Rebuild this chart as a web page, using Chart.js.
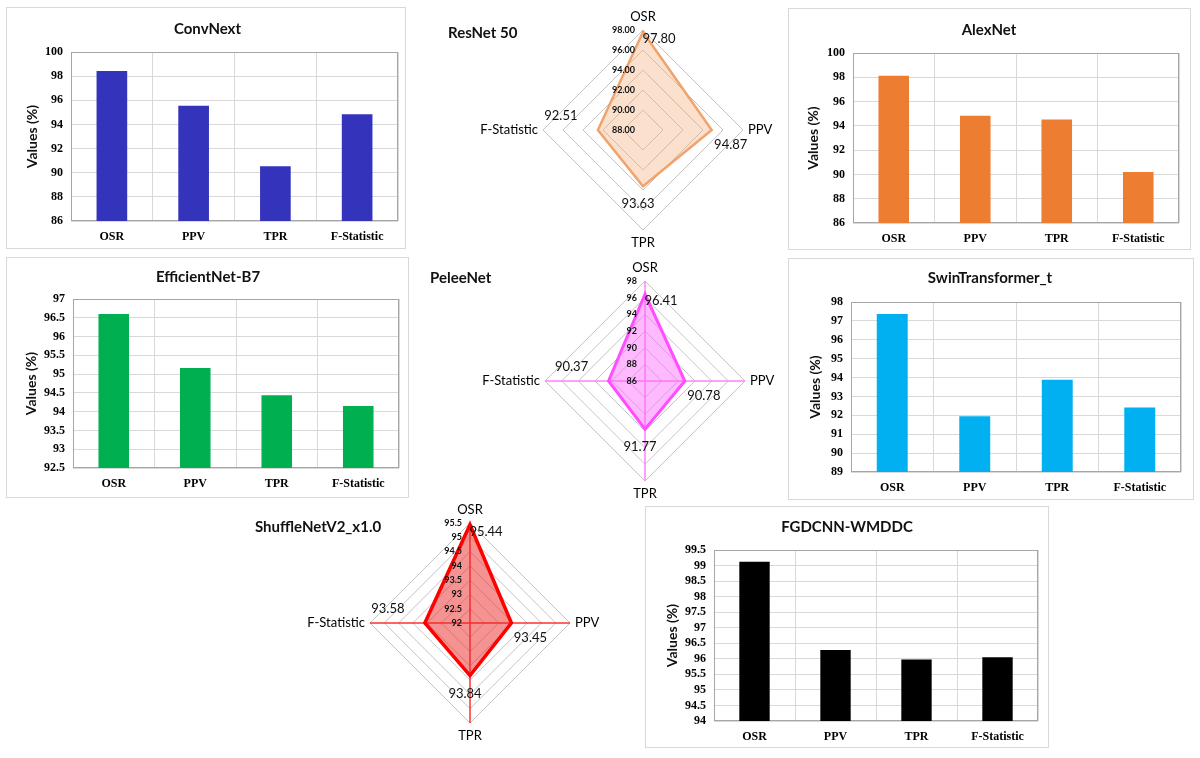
<!DOCTYPE html>
<html>
<head>
<meta charset="utf-8">
<script src="https://cdn.jsdelivr.net/npm/chart.js@4.4.1/dist/chart.umd.min.js"></script>
<style>
  body { margin: 0; background: #fff; }
  #page { position: relative; width: 1200px; height: 758px; overflow: hidden; }
  .panel { position: absolute; }
  .boxed { border: 1px solid #d9d9d9; box-sizing: border-box; }
  canvas { display: block; }
</style>
</head>
<body>
<div id="page"></div>
<script>
const metrics = ["OSR", "PPV", "TPR", "F-Statistic"];

const convNextValues = [98.43, 95.55, 90.53, 94.84];
const alexNetValues = [98.13, 94.84, 94.53, 90.19];
const efficientNetValues = [96.60, 95.16, 94.44, 94.15];
const swinValues = [97.37, 91.95, 93.88, 92.42];
const fgdcnnValues = [99.12, 96.28, 95.98, 96.05];
const resNetValues = [97.80, 94.87, 93.63, 92.51];
const peleeNetValues = [96.41, 90.78, 91.77, 90.37];
const shuffleNetValues = [95.44, 93.45, 93.84, 93.58];

// [min, max, step]
const convNextRange = [86, 100, 2];
const alexNetRange = [86, 100, 2];
const efficientNetRange = [92.5, 97, 0.5];
const swinRange = [89, 98, 1];
const fgdcnnRange = [94, 99.5, 0.5];
const resNetRange = [88, 98, 2];
const peleeNetRange = [86, 98, 2];
const shuffleNetRange = [92, 95.5, 0.5];

const sansFont = 'Lato, "Liberation Sans", sans-serif';
const serifFont = '"Liberation Serif", "Times New Roman", serif';

function addCanvas(x, y, w, h, boxed) {
  const div = document.createElement("div");
  div.className = "panel" + (boxed ? " boxed" : "");
  div.style.left = x + "px";
  div.style.top = y + "px";
  div.style.width = w + "px";
  div.style.height = h + "px";
  const canvas = document.createElement("canvas");
  canvas.width = boxed ? w - 2 : w;
  canvas.height = boxed ? h - 2 : h;
  div.appendChild(canvas);
  document.getElementById("page").appendChild(div);
  return canvas;
}

// gray frame round the plot area, under the bars
const plotFrame = {
  id: "plotFrame",
  beforeDatasetsDraw(chart) {
    const a = chart.chartArea, ctx = chart.ctx;
    ctx.save();
    ctx.strokeStyle = "#a6a6a6";
    ctx.lineWidth = 1;
    ctx.strokeRect(Math.round(a.left) + 0.5, Math.round(a.top) + 0.5,
      Math.round(a.right - a.left) - 1, Math.round(a.bottom - a.top) - 1);
    ctx.restore();
  }
};

function makeBar(box, plot, titleY, yTitleX, title, values, range, color) {
  const canvas = addCanvas(box[0], box[1], box[2], box[3], true);
  const ox = box[0] + 1, oy = box[1] + 1;
  const padLeft = 10;
  const plotLeft = plot[0] - ox;
  const plotTop = plot[1] - oy;
  const padRight = canvas.width - (plot[2] - ox);
  const xAxisHeight = canvas.height - (plot[3] - oy);
  const tTop = titleY - oy - 9;
  const tBottom = plotTop - 18 - tTop;
  const yTitlePad = (yTitleX - ox) - padLeft - 8.4;

  new Chart(canvas, {
    type: "bar",
    data: {
      labels: metrics,
      datasets: [{
        data: values,
        backgroundColor: color,
        barPercentage: 0.375,
        categoryPercentage: 1
      }]
    },
    options: {
      responsive: false,
      animation: false,
      layout: { padding: { left: padLeft, right: padRight, top: 0, bottom: 0 } },
      plugins: {
        legend: { display: false },
        tooltip: { enabled: false },
        title: {
          display: true,
          text: title,
          color: "#111",
          font: { family: sansFont, size: 15, weight: "bold" },
          padding: { top: tTop, bottom: tBottom }
        }
      },
      scales: {
        x: {
          grid: { color: "#d9d9d9", drawTicks: false, offset: true },
          border: { display: false },
          ticks: { color: "#000", font: { family: serifFont, size: 12, weight: "bold" }, padding: 9 },
          afterFit(s) { s.height = xAxisHeight; }
        },
        y: {
          min: range[0],
          max: range[1],
          ticks: {
            stepSize: range[2],
            autoSkip: false,
            maxTicksLimit: 30,
            color: "#000",
            font: { family: serifFont, size: 12, weight: "bold" },
            padding: 8,
            callback: v => String(Math.round(v * 10) / 10)
          },
          grid: { color: "#d9d9d9", drawTicks: false },
          border: { display: false },
          title: {
            display: true,
            text: "Values (%)",
            color: "#111",
            font: { family: sansFont, size: 14, weight: "bold" },
            padding: { top: yTitlePad, bottom: 0 }
          },
          afterFit(s) { s.width = plotLeft - padLeft; }
        }
      }
    },
    plugins: [plotFrame]
  });
}

// offsets of the value labels from each vertex (OSR, PPV, TPR, F-Statistic)
const valueLabelOffsets = [[16, 7], [19, 15], [-5, 18], [-37, -14]];

const radarText = {
  id: "radarText",
  afterDatasetsDraw(chart, args, opts) {
    const ctx = chart.ctx, r = chart.scales.r;
    ctx.save();
    ctx.fillStyle = "#111";
    ctx.textBaseline = "middle";

    ctx.font = "bold 15px " + sansFont;
    ctx.textAlign = "left";
    ctx.fillText(opts.title, opts.titleX, opts.titleY);

    ctx.font = "bold 9px " + sansFont;
    ctx.textAlign = "right";
    r.ticks.forEach(t => {
      const d = r.getDistanceFromCenterForValue(t.value);
      const txt = opts.decimals >= 0 ? t.value.toFixed(opts.decimals) : String(Math.round(t.value * 10) / 10);
      ctx.fillText(txt, r.xCenter - 8, r.yCenter - d);
    });

    ctx.font = "13px " + sansFont;
    ctx.fillStyle = "#000";
    chart.data.labels.forEach((lab, i) => {
      const side = i % 2 === 1;
      const p = r.getPointPosition(i, r.drawingArea + (side ? 5 : 13));
      ctx.textAlign = side ? (i === 1 ? "left" : "right") : "center";
      ctx.fillText(lab, p.x, p.y);
    });

    ctx.font = "13px " + sansFont;
    ctx.fillStyle = "#111";
    ctx.textAlign = "center";
    const vals = chart.data.datasets[0].data;
    chart.getDatasetMeta(0).data.forEach((pt, i) => {
      const off = valueLabelOffsets[i];
      ctx.fillText(vals[i].toFixed(2), pt.x + off[0], pt.y + off[1]);
    });
    ctx.restore();
  }
};

function makeRadar(area, center, title, titlePos, decimals, values, range, fill, line, lineWidth, spoke) {
  const canvas = addCanvas(area[0], area[1], area[2], area[3], false);
  const radius = 100;
  const padding = {
    left: center[0] - radius - area[0],
    right: area[0] + area[2] - (center[0] + radius),
    top: center[1] - radius - area[1],
    bottom: area[1] + area[3] - (center[1] + radius)
  };
  new Chart(canvas, {
    type: "radar",
    data: {
      labels: metrics,
      datasets: [{
        data: values,
        fill: true,
        backgroundColor: fill,
        borderColor: line,
        borderWidth: lineWidth,
        pointRadius: 0,
        tension: 0
      }]
    },
    options: {
      responsive: false,
      animation: false,
      layout: { padding: padding },
      plugins: {
        legend: { display: false },
        tooltip: { enabled: false },
        radarText: { title: title, titleX: titlePos[0] - area[0], titleY: titlePos[1] - area[1], decimals: decimals }
      },
      scales: {
        r: {
          min: range[0],
          max: range[1],
          ticks: { stepSize: range[2], display: false },
          pointLabels: { display: false },
          grid: { color: "#c4c4c4", lineWidth: 1 },
          angleLines: { display: !!spoke, color: spoke || "#c4c4c4", lineWidth: 1.5 }
        }
      }
    },
    plugins: [radarText]
  });
}

makeBar([6, 7, 400, 242], [71, 52, 398, 221], 29, 32, "ConvNext", convNextValues, convNextRange, "#3333bb");
makeBar([788, 8, 403, 242], [853, 53, 1179, 223], 30, 813, "AlexNet", alexNetValues, alexNetRange, "#ed7d31");
makeBar([6, 257, 403, 241], [73, 299, 399, 468], 277, 31, "EfficientNet-B7", efficientNetValues, efficientNetRange, "#00b050");
makeBar([788, 258, 406, 242], [851, 302, 1181, 472], 278, 815, "SwinTransformer_t", swinValues, swinRange, "#00b0f0");
makeBar([645, 506, 404, 242], [714, 550, 1038, 721], 527, 672, "FGDCNN-WMDDC", fgdcnnValues, fgdcnnRange, "#000000");

makeRadar([420, 0, 365, 255], [643, 130], "ResNet 50", [448, 33], 2, resNetValues, resNetRange,
  "rgba(244,177,131,0.4)", "#f0a46c", 2.5, null);
makeRadar([420, 255, 365, 245], [645, 381], "PeleeNet", [430, 278], 0, peleeNetValues, peleeNetRange,
  "rgba(255,102,255,0.45)", "#ff4dff", 3, "#ff80ff");
makeRadar([240, 500, 400, 258], [470, 623], "ShuffleNetV2_x1.0", [255, 527], -1, shuffleNetValues, shuffleNetRange,
  "rgba(235,40,40,0.5)", "#ff0000", 3.5, "#ff3030");
</script>
</body>
</html>
